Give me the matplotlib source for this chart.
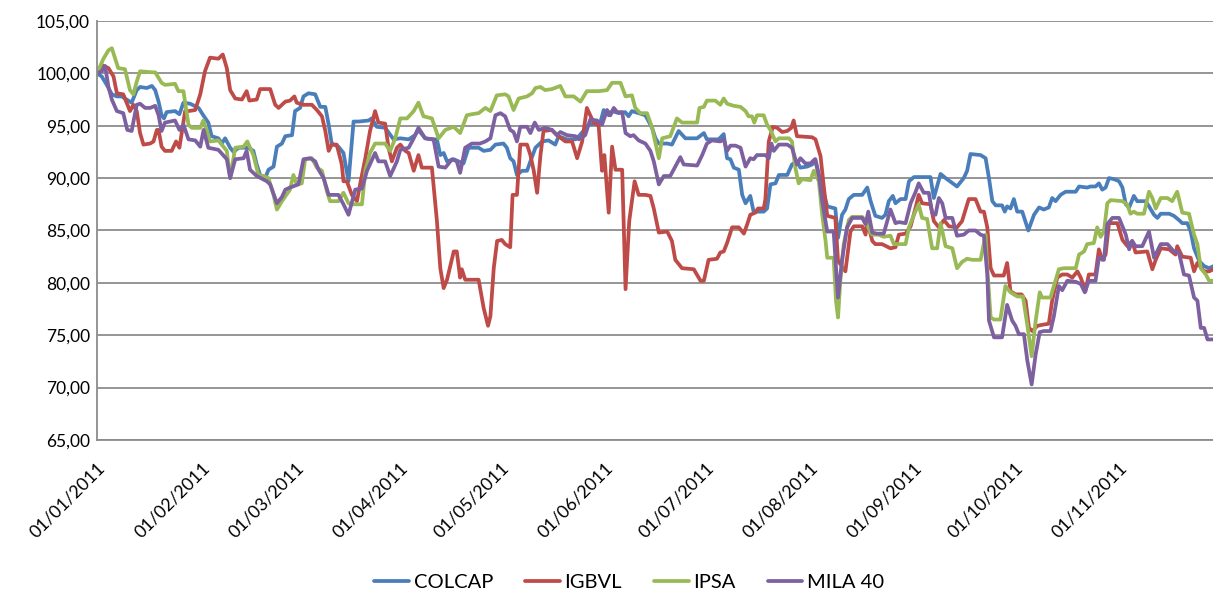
import numpy as np
import pandas as pd
import matplotlib
matplotlib.use("Agg")
import matplotlib.pyplot as plt
import matplotlib.dates as mdates
from matplotlib.ticker import MultipleLocator, FuncFormatter

# ==================== datos (base 100 = 01/01/2011) ====================
inicio = pd.Timestamp("2011-01-01")

colcap_dia = [0.0, 1.4, 2.9, 4.4, 5.9, 7.3, 8.8, 10.3, 11.8, 12.8, 14.8, 16.3, 17.3, 18.3, 19.2, 19.9, 20.7, 23.2, 24.5, 25.7,
              27.7, 30.2, 31.6, 33.1, 34.1, 36.1, 37.1, 38.1, 39.6, 40.6, 42.1, 45.0, 46.5, 47.5, 48.5, 50.0, 51.0, 52.5, 53.5, 55.0,
              56.0, 58.0, 58.9, 60.4, 61.4, 62.9, 64.9, 66.4, 67.9, 68.9, 69.8, 71.8, 73.3, 74.8, 75.8, 76.3, 77.8, 80.8, 81.7, 83.2,
              85.7, 88.2, 90.2, 92.7, 94.6, 95.6, 97.6, 99.6, 101.1, 102.1, 103.1, 104.1, 106.1, 107.5, 109.0, 110.5, 113.5, 115.0, 117.0, 118.5,
              120.9, 121.9, 122.9, 123.9, 124.9, 126.4, 127.9, 128.9, 130.4, 132.4, 134.3, 136.3, 137.3, 139.8, 142.3, 143.3, 144.7, 146.2, 148.2, 149.7,
              150.7, 152.2, 153.2, 155.2, 157.1, 158.1, 159.1, 161.1, 163.1, 165.1, 166.1, 167.1, 169.6, 171.0, 173.0, 175.0, 178.5, 180.5, 181.4, 184.9,
              186.4, 187.4, 188.4, 189.4, 190.9, 191.9, 192.9, 194.3, 195.3, 198.3, 199.3, 200.3, 201.8, 202.8, 205.3, 206.7, 208.2, 209.2, 211.2, 212.7,
              213.7, 214.7, 215.7, 217.2, 219.6, 220.4, 221.6, 222.6, 223.6, 225.1, 227.6, 229.1, 230.1, 231.5, 233.5, 234.5, 235.5, 236.7, 237.5, 239.0,
              240.5, 241.5, 243.0, 247.9, 248.9, 250.9, 252.4, 255.8, 257.8, 258.8, 259.8, 262.8, 264.3, 265.3, 266.3, 267.3, 269.2, 270.0, 270.7, 271.7,
              272.7, 273.7, 275.2, 277.0, 278.7, 280.2, 281.6, 283.1, 284.1, 285.1, 286.6, 288.1, 291.1, 292.1, 294.5, 295.5, 297.0, 298.0, 299.0, 300.0,
              301.0, 302.5, 304.0, 305.0, 306.0, 307.0, 308.4, 309.4, 311.9, 312.9, 314.4, 315.4, 316.4, 318.9, 320.3, 321.8, 322.8, 324.3, 325.3, 326.3,
              327.8, 329.3, 330.8, 332.1]
colcap = [100.0, 99.7, 98.9, 98.0, 97.8, 97.8, 97.5, 97.2, 98.4, 98.7, 98.6, 98.8, 98.4, 97.3, 96.0, 95.7, 96.3, 96.4, 96.1, 97.2,
          97.1, 96.7, 96.0, 95.3, 94.0, 93.8, 93.3, 93.8, 92.9, 92.5, 92.9, 92.9, 92.6, 91.3, 90.3, 90.0, 90.8, 91.1, 93.0, 93.3,
          94.0, 94.1, 96.4, 96.7, 97.8, 98.1, 98.0, 96.8, 96.8, 95.1, 93.3, 93.0, 92.4, 89.7, 93.5, 95.4, 95.4, 95.5, 95.7, 94.9,
          94.8, 93.7, 93.8, 93.7, 94.1, 94.6, 93.8, 93.7, 93.7, 92.2, 92.4, 91.6, 91.8, 91.6, 91.4, 92.9, 92.9, 92.6, 92.7, 93.2,
          93.3, 92.9, 91.9, 91.6, 90.3, 90.7, 90.7, 91.6, 92.9, 93.5, 93.6, 93.2, 94.0, 93.7, 93.7, 94.0, 94.5, 95.1, 95.2, 95.3,
          96.5, 96.0, 96.4, 96.2, 96.3, 95.9, 96.4, 96.2, 96.0, 94.8, 93.8, 93.3, 93.3, 93.2, 94.5, 93.8, 93.8, 94.3, 93.7, 93.7,
          94.2, 91.9, 91.8, 91.0, 90.8, 88.4, 87.6, 88.3, 86.8, 86.8, 87.1, 89.4, 89.5, 90.3, 90.3, 91.3, 91.6, 91.0, 91.1, 91.3,
          91.8, 90.3, 89.1, 87.3, 87.1, 84.3, 86.5, 87.0, 88.0, 88.4, 88.4, 89.1, 87.8, 86.4, 86.2, 86.5, 87.8, 88.3, 87.6, 88.0,
          88.0, 89.7, 90.1, 90.1, 88.1, 90.4, 90.0, 89.2, 90.0, 90.7, 92.3, 92.2, 91.9, 90.0, 87.8, 87.4, 87.4, 86.8, 87.3, 87.1,
          88.0, 86.8, 86.8, 85.0, 86.5, 87.2, 87.0, 87.2, 88.1, 87.8, 88.4, 88.7, 88.7, 89.2, 89.1, 89.2, 89.2, 89.5, 88.9, 89.1,
          90.0, 89.9, 89.7, 89.1, 87.5, 87.2, 88.3, 87.8, 87.8, 87.3, 86.5, 86.2, 86.6, 86.6, 86.4, 86.0, 85.7, 85.7, 84.9, 83.3,
          82.1, 81.6, 81.4, 81.6]

igbvl_dia = [0.0, 1.4, 3.4, 4.9, 5.9, 7.8, 8.8, 9.8, 10.8, 11.8, 12.8, 13.8, 15.8, 16.8, 17.8, 18.3, 19.2, 20.2, 22.2, 23.5,
             24.5, 26.2, 27.2, 29.2, 30.7, 32.1, 33.6, 36.1, 37.4, 38.6, 39.6, 41.1, 43.1, 44.5, 45.3, 47.5, 48.5, 51.5, 53.0, 54.0,
             56.0, 57.4, 58.7, 59.4, 61.4, 63.9, 65.4, 66.9, 67.9, 68.9, 69.8, 71.3, 72.8, 73.3, 74.3, 75.8, 77.3, 78.3, 79.8, 81.2,
             82.7, 83.7, 85.7, 86.7, 87.7, 89.2, 90.2, 91.7, 92.7, 94.2, 95.6, 96.6, 99.6, 101.1, 102.1, 103.1, 104.1, 106.1, 107.0, 108.0,
             108.5, 109.5, 113.5, 115.0, 116.3, 117.0, 118.0, 119.0, 120.4, 121.4, 122.9, 123.6, 124.9, 125.9, 127.9, 128.9, 129.9, 130.9, 131.9, 132.8,
             135.3, 136.8, 139.3, 141.3, 142.8, 144.3, 145.7, 146.7, 147.7, 149.2, 150.2, 150.9, 152.2, 153.2, 154.2, 156.2, 157.2, 158.3, 159.9, 161.1,
             163.1, 164.6, 165.6, 167.1, 169.6, 171.0, 172.0, 174.0, 177.5, 179.5, 180.5, 181.9, 184.4, 185.4, 186.4, 187.4, 188.9, 190.9, 192.4, 193.4,
             194.3, 195.8, 196.6, 198.3, 198.8, 199.8, 201.0, 202.3, 203.8, 205.3, 206.5, 207.2, 208.2, 212.7, 213.7, 215.2, 216.2, 217.2, 219.6, 220.4,
             222.6, 224.1, 225.1, 227.6, 228.6, 229.1, 230.6, 231.5, 233.5, 236.0, 237.5, 238.5, 240.5, 242.0, 243.5, 244.4, 245.4, 247.9, 248.9, 250.4,
             251.9, 253.4, 255.8, 257.3, 259.3, 261.3, 262.8, 263.8, 264.8, 265.8, 266.8, 269.7, 270.7, 271.7, 273.2, 275.0, 276.2, 277.2, 278.2, 279.7,
             281.2, 283.1, 284.1, 285.6, 287.1, 288.6, 290.1, 291.6, 292.6, 294.0, 295.0, 297.0, 298.0, 299.0, 300.0, 301.0, 303.5, 305.0, 306.5, 307.9,
             308.9, 312.4, 313.9, 314.9, 316.4, 318.9, 320.8, 321.3, 322.8, 325.3, 326.3, 327.3, 329.3, 330.8, 332.1]
igbvl = [100.0, 100.8, 100.5, 99.7, 98.1, 98.0, 97.2, 96.4, 97.0, 96.4, 94.3, 93.2, 93.3, 93.5, 94.6, 94.6, 93.0, 92.6, 92.6, 93.5,
         92.9, 96.4, 96.4, 96.5, 98.0, 100.2, 101.5, 101.4, 101.8, 100.5, 98.4, 97.6, 97.5, 98.3, 97.4, 97.5, 98.5, 98.5, 97.0, 96.7,
         97.3, 97.4, 97.8, 97.2, 97.0, 97.0, 96.5, 95.9, 94.5, 92.6, 93.2, 93.2, 91.3, 89.7, 89.7, 88.4, 87.8, 89.5, 91.9, 94.5,
         96.4, 95.3, 95.2, 92.9, 91.6, 92.9, 93.2, 92.6, 92.4, 90.7, 92.2, 91.0, 91.0, 85.9, 81.4, 79.5, 80.3, 83.0, 83.0, 80.5,
         81.3, 80.3, 80.3, 77.6, 75.9, 76.8, 81.4, 84.0, 84.1, 83.7, 83.4, 88.4, 88.4, 93.2, 93.2, 92.2, 90.7, 88.6, 92.2, 94.5,
         94.6, 94.1, 93.5, 93.5, 91.9, 93.5, 96.7, 96.0, 95.3, 95.0, 90.7, 92.2, 86.7, 93.0, 90.8, 90.8, 79.4, 85.9, 89.7, 88.4,
         88.4, 88.3, 87.1, 84.8, 84.9, 84.0, 82.2, 81.4, 81.3, 80.2, 80.2, 82.2, 82.3, 82.9, 83.0, 83.8, 85.3, 85.3, 84.7, 85.6,
         86.5, 86.7, 87.1, 87.1, 88.0, 93.5, 94.9, 94.8, 94.4, 94.5, 94.8, 95.5, 94.0, 93.9, 93.7, 92.1, 89.1, 86.4, 86.2, 82.1,
         81.1, 84.9, 85.4, 85.4, 84.6, 85.9, 84.0, 83.7, 83.7, 83.3, 83.4, 84.6, 84.7, 85.4, 87.2, 88.4, 87.6, 87.5, 85.9, 85.3,
         86.0, 85.4, 85.3, 85.9, 88.0, 88.0, 86.8, 86.8, 85.3, 81.4, 80.7, 80.7, 81.9, 79.2, 78.9, 78.9, 78.3, 75.7, 75.4, 75.9,
         76.0, 76.1, 78.3, 80.5, 80.8, 80.8, 80.5, 81.1, 80.5, 79.2, 80.8, 80.8, 83.2, 82.2, 82.7, 85.7, 85.7, 84.1, 83.5, 84.0,
         82.9, 83.0, 81.3, 82.2, 83.3, 83.2, 82.7, 83.5, 82.5, 82.4, 81.1, 81.9, 81.1, 81.1, 81.3]

ipsa_dia = [0.0, 1.9, 3.4, 4.4, 6.3, 8.3, 9.8, 10.8, 11.8, 12.8, 16.3, 17.3, 19.2, 20.2, 23.2, 24.2, 25.7, 27.2, 28.2, 30.7,
            31.6, 32.6, 33.6, 36.1, 38.6, 39.6, 41.1, 43.6, 44.7, 46.5, 48.0, 49.5, 51.0, 52.5, 53.5, 55.0, 57.4, 58.4, 59.4, 60.9,
            61.9, 63.9, 65.4, 66.9, 68.4, 69.3, 71.8, 73.3, 74.8, 75.8, 78.8, 79.8, 81.2, 82.7, 85.7, 87.2, 88.7, 90.2, 92.2, 94.2,
            95.6, 97.1, 99.6, 101.6, 103.6, 106.1, 108.0, 110.0, 111.5, 113.5, 115.5, 117.0, 118.9, 121.4, 122.4, 123.9, 125.4, 127.9, 129.4, 130.4,
            131.9, 133.3, 135.3, 137.8, 139.3, 141.8, 143.8, 145.7, 149.2, 151.7, 153.2, 155.7, 157.2, 159.1, 160.1, 161.6, 163.6, 165.1, 167.1, 168.1,
            170.5, 172.5, 174.0, 178.5, 179.2, 180.5, 181.4, 183.9, 185.4, 186.4, 187.4, 189.4, 191.4, 192.9, 193.8, 194.8, 195.5, 196.3, 198.3, 199.3,
            200.3, 201.8, 202.8, 205.8, 206.7, 207.7, 208.7, 209.7, 212.2, 213.2, 214.7, 215.7, 216.7, 217.2, 219.1, 219.8, 220.4, 221.1, 222.1, 223.6,
            224.6, 227.6, 228.6, 230.1, 230.6, 232.5, 234.0, 236.0, 237.0, 240.5, 241.5, 243.0, 244.4, 245.4, 246.9, 248.4, 249.9, 250.9, 252.4, 254.4,
            255.8, 257.3, 258.8, 260.3, 262.8, 264.3, 264.8, 265.8, 266.8, 268.7, 270.2, 271.7, 273.7, 275.4, 276.7, 278.0, 279.2, 280.4, 281.1, 283.6,
            284.6, 286.1, 287.6, 291.1, 292.1, 293.6, 294.5, 296.5, 297.5, 298.5, 299.5, 300.5, 301.5, 305.0, 306.4, 307.4, 308.4, 309.4, 311.4, 312.9,
            313.9, 314.9, 316.4, 318.4, 319.8, 321.3, 322.8, 324.8, 326.3, 327.3, 328.3, 329.8, 330.8, 332.1]
ipsa = [100.0, 101.4, 102.2, 102.4, 100.5, 100.4, 98.4, 98.0, 99.2, 100.2, 100.1, 100.1, 99.1, 98.9, 99.0, 98.3, 98.3, 95.1, 94.8, 94.8,
        95.5, 94.6, 93.5, 93.6, 92.6, 90.0, 92.9, 93.0, 93.5, 92.2, 90.3, 90.2, 90.0, 88.4, 87.0, 87.8, 88.9, 90.3, 89.4, 89.5,
        91.8, 91.9, 91.0, 90.7, 88.7, 87.8, 87.8, 88.6, 87.6, 87.5, 87.5, 90.7, 92.4, 93.3, 93.3, 92.6, 93.8, 95.7, 95.7, 96.4,
        97.2, 95.9, 95.7, 93.8, 94.6, 94.9, 94.3, 96.0, 96.1, 96.2, 96.7, 96.4, 97.9, 98.0, 97.8, 96.5, 97.6, 97.8, 98.1, 98.6,
        98.7, 98.4, 98.5, 98.8, 97.8, 97.8, 97.3, 98.3, 98.3, 98.4, 99.1, 99.1, 97.8, 97.9, 96.7, 96.2, 96.2, 94.8, 91.9, 93.8,
        94.0, 95.7, 95.3, 95.3, 96.7, 96.8, 97.4, 97.4, 97.0, 97.6, 97.1, 96.9, 96.8, 96.4, 95.9, 95.9, 95.3, 96.0, 96.0, 95.1,
        94.6, 93.5, 93.8, 93.8, 93.5, 91.0, 89.5, 89.9, 89.8, 90.7, 89.7, 86.5, 84.0, 82.4, 82.4, 78.3, 76.7, 80.2, 83.7, 86.0,
        86.3, 86.3, 85.9, 84.8, 84.6, 84.6, 84.4, 84.5, 83.7, 83.7, 85.3, 86.5, 87.5, 86.2, 86.1, 83.3, 83.3, 85.7, 83.5, 83.3,
        81.4, 82.0, 82.3, 82.2, 82.2, 84.6, 81.4, 76.7, 76.5, 76.5, 79.7, 79.1, 78.7, 78.7, 76.0, 73.0, 76.4, 79.1, 78.6, 78.6,
        79.7, 81.3, 81.4, 81.4, 82.7, 83.0, 83.7, 83.8, 85.3, 84.4, 84.9, 87.6, 87.9, 87.8, 87.5, 86.6, 86.8, 86.6, 86.6, 88.7,
        88.1, 87.1, 88.1, 88.1, 87.8, 88.7, 86.7, 86.6, 84.6, 83.7, 81.4, 80.8, 80.2, 80.2]

mila_dia = [0.0, 1.4, 2.4, 3.4, 4.4, 5.9, 7.8, 9.0, 10.3, 11.8, 12.8, 14.3, 15.8, 17.3, 18.3, 19.2, 20.2, 23.2, 24.5, 25.7,
            27.2, 29.2, 30.7, 31.7, 33.1, 36.1, 38.6, 39.6, 41.1, 43.6, 44.5, 45.5, 47.5, 50.5, 51.5, 53.5, 55.0, 56.0, 57.4, 59.9,
            61.4, 63.4, 64.9, 65.9, 67.4, 68.9, 71.8, 73.3, 74.8, 76.8, 78.8, 80.3, 82.7, 83.7, 85.7, 87.2, 89.2, 90.2, 92.7, 94.2,
            95.6, 97.6, 100.1, 101.6, 103.6, 105.6, 107.0, 108.0, 109.5, 111.5, 113.9, 115.5, 117.0, 118.5, 120.0, 121.4, 122.9, 123.9, 124.9, 125.9,
            127.9, 128.9, 130.2, 131.4, 133.3, 135.3, 136.8, 137.8, 139.8, 142.3, 143.3, 145.2, 146.7, 148.7, 150.2, 151.7, 152.7, 153.7, 154.7, 156.2,
            157.2, 158.6, 159.6, 161.1, 163.1, 164.6, 165.6, 167.1, 168.6, 170.5, 172.0, 173.5, 174.5, 178.5, 180.0, 181.4, 182.9, 185.4, 186.4, 187.4,
            188.4, 189.9, 191.4, 192.9, 194.3, 195.3, 196.3, 198.8, 199.8, 200.6, 201.3, 202.8, 205.3, 206.7, 208.2, 209.2, 210.7, 212.2, 213.5, 214.7,
            215.7, 217.2, 219.1, 220.4, 221.6, 223.1, 224.6, 227.6, 228.6, 229.4, 230.6, 232.0, 234.0, 236.0, 237.5, 238.5, 240.5, 242.0, 243.5, 244.4,
            245.9, 247.4, 248.4, 249.4, 250.4, 251.4, 252.4, 254.4, 255.8, 257.8, 259.3, 261.3, 262.8, 263.8, 264.8, 265.3, 266.8, 269.2, 270.7, 272.2,
            273.2, 274.2, 275.7, 276.7, 278.0, 279.2, 280.4, 281.6, 283.6, 284.6, 286.1, 287.1, 288.6, 291.1, 292.6, 293.8, 295.0, 297.0, 298.0, 299.5,
            300.5, 302.0, 304.0, 306.0, 307.0, 307.9, 308.9, 310.9, 312.9, 314.4, 316.4, 318.4, 320.3, 321.8, 323.3, 324.8, 326.3, 327.3, 328.3, 329.3,
            330.3, 332.1]
mila = [100.0, 100.2, 100.7, 98.7, 97.5, 96.4, 96.2, 94.6, 94.5, 97.0, 97.1, 96.7, 96.7, 96.9, 96.0, 94.5, 95.3, 95.5, 94.6, 95.1,
        93.7, 93.6, 93.0, 94.6, 92.9, 92.7, 91.8, 90.0, 91.8, 91.9, 92.6, 90.8, 90.2, 89.7, 89.4, 87.6, 88.2, 88.9, 89.1, 89.4,
        91.8, 91.9, 91.6, 90.8, 90.0, 88.4, 88.4, 87.5, 86.5, 88.9, 89.0, 90.7, 92.4, 91.6, 91.6, 90.2, 91.6, 92.7, 92.9, 93.8,
        94.8, 93.8, 93.7, 91.1, 91.0, 91.8, 91.6, 90.5, 92.9, 93.3, 93.3, 93.5, 93.8, 96.0, 96.2, 95.9, 94.6, 94.4, 93.5, 94.9,
        94.9, 94.3, 95.3, 94.6, 94.8, 94.6, 94.1, 94.4, 94.1, 94.0, 93.7, 94.1, 95.6, 95.5, 95.1, 96.5, 96.0, 96.7, 96.3, 96.3,
        94.3, 94.0, 94.1, 93.6, 93.3, 92.6, 91.6, 89.4, 90.2, 90.2, 91.1, 92.0, 91.3, 91.2, 92.2, 93.3, 93.6, 93.5, 93.7, 92.6,
        93.1, 93.1, 92.9, 91.1, 91.9, 91.8, 92.2, 92.2, 91.9, 93.3, 92.6, 93.2, 93.2, 92.9, 91.3, 91.9, 91.4, 91.4, 91.8, 90.3,
        87.8, 84.9, 84.9, 78.6, 82.2, 85.3, 86.2, 86.2, 85.6, 86.8, 84.8, 84.7, 84.7, 87.0, 85.7, 85.8, 85.7, 87.6, 88.7, 89.5,
        88.6, 88.6, 86.7, 86.5, 88.1, 87.6, 86.2, 86.2, 84.5, 84.6, 85.0, 85.0, 84.6, 84.5, 80.8, 76.4, 74.8, 74.8, 77.9, 76.4,
        75.9, 75.1, 75.1, 72.6, 70.3, 73.2, 75.3, 75.4, 75.4, 76.8, 79.7, 79.3, 80.2, 80.1, 79.9, 79.1, 80.2, 80.2, 82.4, 82.2,
        85.6, 86.2, 86.2, 84.6, 83.2, 84.0, 83.5, 83.5, 84.9, 82.4, 83.7, 83.7, 83.0, 82.9, 80.8, 80.7, 78.6, 78.3, 75.7, 75.7,
        74.6, 74.6]

series = [
    ("COLCAP", colcap_dia, colcap, "#4A7EBB"),
    ("IGBVL", igbvl_dia, igbvl, "#BE4B48"),
    ("IPSA", ipsa_dia, ipsa, "#98B954"),
    ("MILA 40", mila_dia, mila, "#7D60A0"),
]

# ==================== gráfico ====================
plt.rcParams['font.family'] = ['Lato', 'DejaVu Sans']

fig = plt.figure(figsize=(12.13, 5.91), dpi=100)
ax = fig.add_axes([0.080, 0.2555, 0.921, 0.709])

for nombre, dias, valores, color in series:
    fechas = inicio + pd.to_timedelta(np.array(dias), unit="D")
    ax.plot(fechas, valores, color=color, linewidth=2.7, label=nombre,
            solid_joinstyle="round", solid_capstyle="round")

ax.set_ylim(65, 105)
ax.yaxis.set_major_locator(MultipleLocator(5))
ax.yaxis.set_major_formatter(FuncFormatter(lambda v, p: f"{v:.2f}".replace(".", ",")))
ax.set_xlim(inicio, inicio + pd.Timedelta(days=332.3))
ax.xaxis.set_major_locator(mdates.MonthLocator(bymonthday=1))
ax.xaxis.set_major_formatter(mdates.DateFormatter("%d/%m/%Y"))

ax.grid(axis="y", color="#8C8C8C", linewidth=1.3)
ax.set_axisbelow(True)
for lado in ["top", "right"]:
    ax.spines[lado].set_visible(False)
for lado in ["left", "bottom"]:
    ax.spines[lado].set_color("#8C8C8C")
    ax.spines[lado].set_linewidth(1.3)

ax.tick_params(axis="y", length=0, pad=5, labelsize=12.5, colors="black")
ax.tick_params(axis="x", length=0, pad=14, labelsize=12.8, colors="black")
for lbl in ax.get_xticklabels():
    lbl.set_rotation(45)
    lbl.set_ha("right")
    lbl.set_va("top")
    lbl.set_rotation_mode("anchor")

fig.legend(loc="center", bbox_to_anchor=(0.519, 0.014), ncol=4, frameon=False,
           fontsize=14.5, handlelength=1.7, handletextpad=0.25, columnspacing=1.6)

fig.savefig("out.png", dpi=100)
